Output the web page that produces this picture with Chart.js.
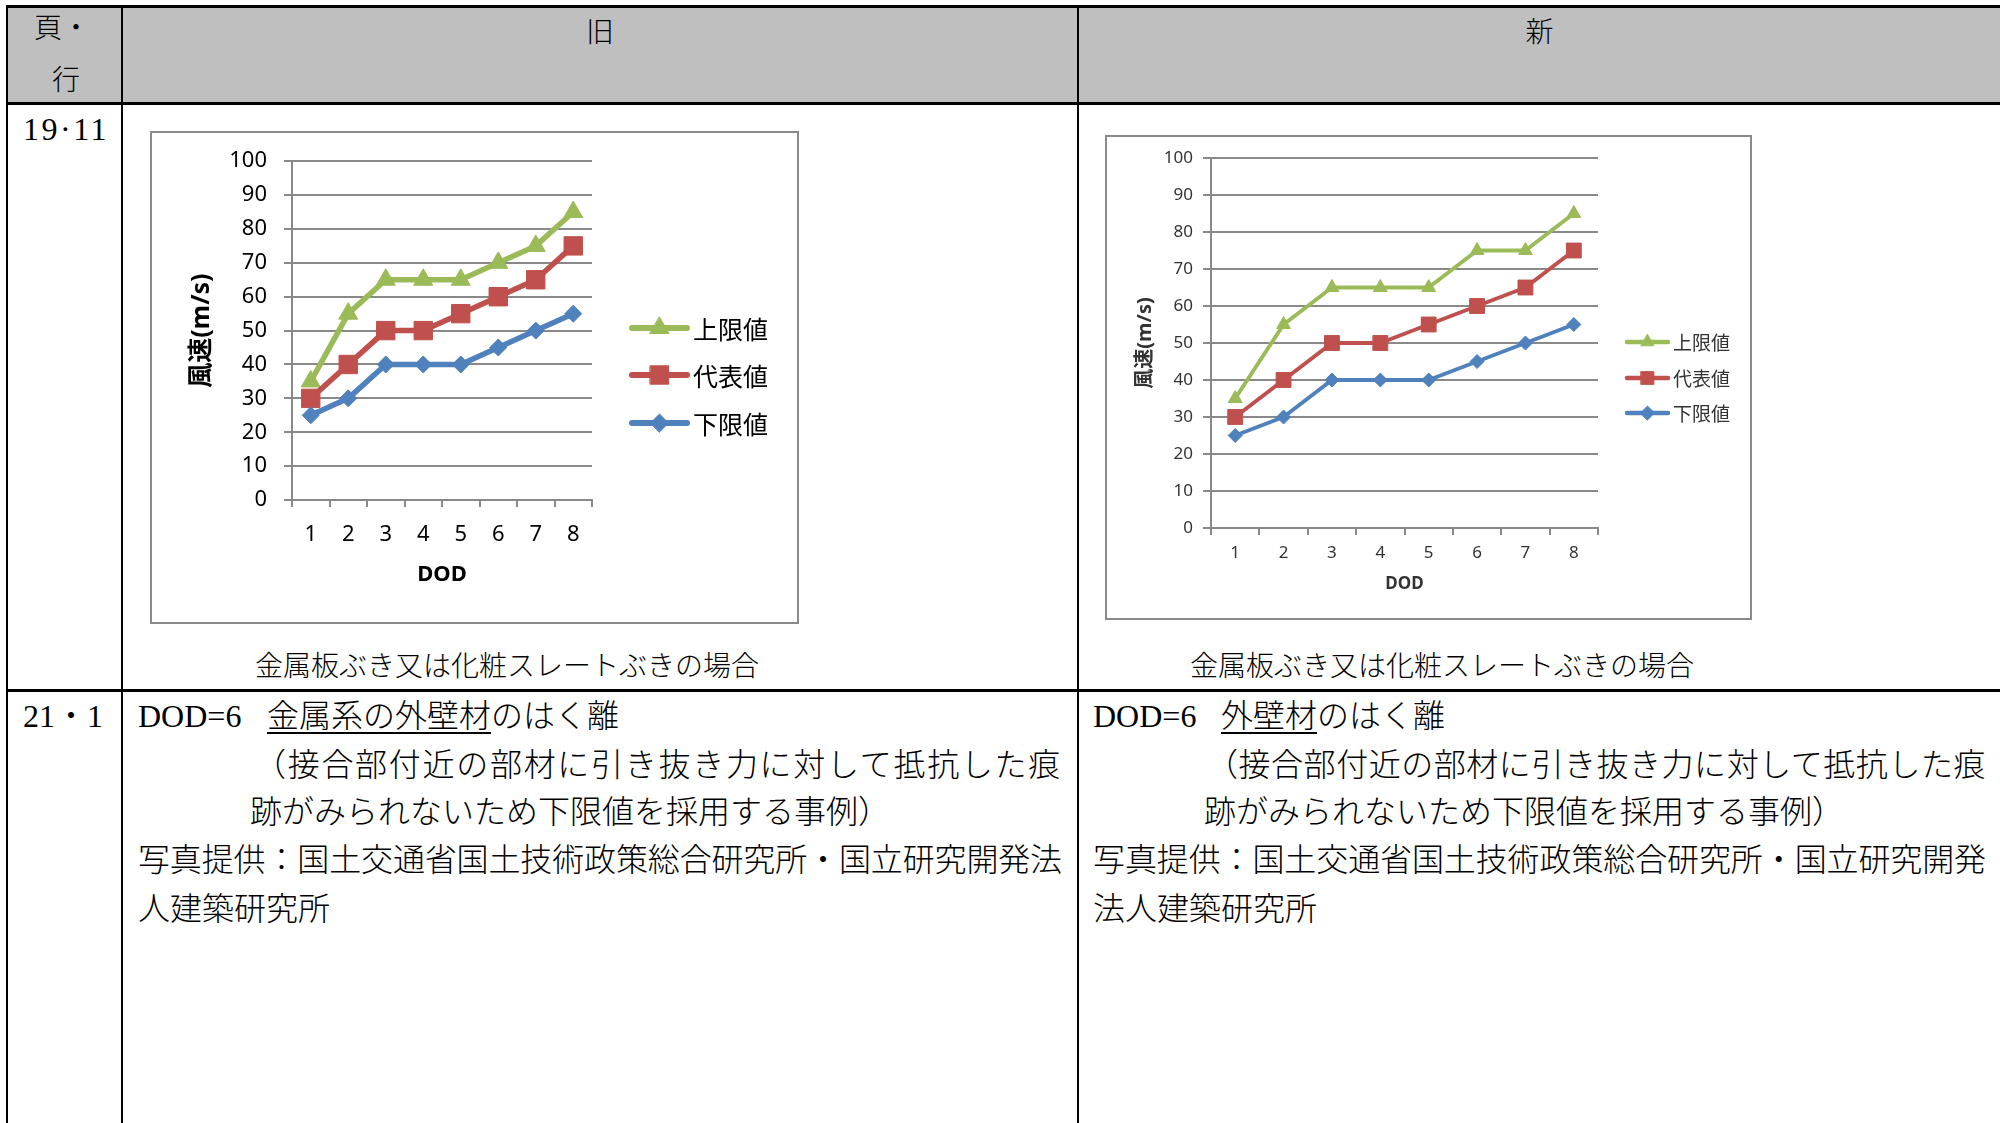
<!DOCTYPE html>
<html lang="ja">
<head>
<meta charset="utf-8">
<title>DOD と風速 新旧対照表</title>
<script src="https://cdn.jsdelivr.net/npm/chart.js@4/dist/chart.umd.min.js"></script>
<style>
html, body { margin: 0; padding: 0; background: #fff; }
#page { position: relative; width: 2000px; height: 1123px; overflow: hidden;
        font-family: "Liberation Serif", "Noto Sans CJK JP", serif; color: #000; font-weight: 300; }
.rule { position: absolute; background: #000; }
.head { position: absolute; background: #bfbfbf; }
.t { position: absolute; white-space: nowrap; line-height: 40px; height: 40px; font-size: 32px; }
.h { font-size: 28px; }
.cap { font-size: 28px; }
.u { text-decoration: underline; text-decoration-thickness: 2px; text-underline-offset: 5px; }
canvas { position: absolute; }
.frame { position: absolute; box-sizing: border-box; border: 2px solid #8a8a8a; pointer-events: none; }
</style>
</head>
<body>
<div id="page">
  <!-- header fill and table rules -->
  <div class="head" style="left:8px; top:8px; width:1992px; height:94px;"></div>
  <div class="rule" style="left:6px; top:5px; width:1994px; height:3px;"></div>
  <div class="rule" style="left:6px; top:102px; width:1994px; height:3px;"></div>
  <div class="rule" style="left:6px; top:689px; width:1994px; height:3px;"></div>
  <div class="rule" style="left:6px; top:5px; width:2px; height:1118px;"></div>
  <div class="rule" style="left:121px; top:5px; width:2px; height:1118px;"></div>
  <div class="rule" style="left:1077px; top:5px; width:2px; height:1118px;"></div>

  <!-- header texts -->
  <div class="t h" style="left:34px; top:9px;">頁・</div>
  <div class="t h" style="left:52px; top:61px;">行</div>
  <div class="t h" style="left:123px; width:954px; text-align:center; top:13px;">旧</div>
  <div class="t h" style="left:1079px; width:921px; text-align:center; top:13px;">新</div>

  <!-- row 19·11 -->
  <div class="t" style="left:23px; top:109px; letter-spacing:2.5px;">19·11</div>

  <canvas id="oldChart" width="649" height="493" style="left:150px; top:131px;"></canvas>
  <div class="frame" style="left:150px; top:131px; width:649px; height:493px;"></div>
  <canvas id="newChart" width="647" height="485" style="left:1105px; top:135px;"></canvas>
  <div class="frame" style="left:1105px; top:135px; width:647px; height:485px;"></div>

  <div class="t cap" style="left:255px; top:647px;">金属板ぶき又は化粧スレートぶきの場合</div>
  <div class="t cap" style="left:1190px; top:647px;">金属板ぶき又は化粧スレートぶきの場合</div>

  <!-- row 21・1 -->
  <div class="t" style="left:23px; top:696px;">21・1</div>

  <div class="t" style="left:138px; top:696px;">DOD=6</div>
  <div class="t" style="left:267px; top:696px;"><span class="u">金属系の外壁材</span>のはく離</div>
  <div class="t fit" data-w="808" style="left:254px; top:745px;">（接合部付近の部材に引き抜き力に対して抵抗した痕</div>
  <div class="t" style="left:250px; top:792px;">跡がみられないため下限値を採用する事例）</div>
  <div class="t fit" data-w="924" style="left:138px; top:840px;">写真提供：国土交通省国土技術政策総合研究所・国立研究開発法</div>
  <div class="t" style="left:138px; top:889px;">人建築研究所</div>

  <div class="t" style="left:1093px; top:696px;">DOD=6</div>
  <div class="t" style="left:1221px; top:696px;"><span class="u">外壁材</span>のはく離</div>
  <div class="t fit" data-w="780" style="left:1206px; top:745px;">（接合部付近の部材に引き抜き力に対して抵抗した痕</div>
  <div class="t" style="left:1204px; top:792px;">跡がみられないため下限値を採用する事例）</div>
  <div class="t fit" data-w="893" style="left:1093px; top:840px;">写真提供：国土交通省国土技術政策総合研究所・国立研究開発</div>
  <div class="t" style="left:1093px; top:889px;">法人建築研究所</div>
</div>

<script>
// spread full-justified lines across their column width
document.querySelectorAll('.fit').forEach(el => {
  const target = parseFloat(el.dataset.w);
  const n = Array.from(el.textContent).length;
  el.style.letterSpacing = '0px';
  const natural = el.getBoundingClientRect().width;
  el.style.letterSpacing = ((target - natural) / n) + 'px';
});

// DOD categories and wind speeds (m/s)
const dodLabels   = ['1', '2', '3', '4', '5', '6', '7', '8'];
const seriesNames = ['上限値', '代表値', '下限値'];
const windTicks   = [0, 10, 20, 30, 40, 50, 60, 70, 80, 90, 100];

// 旧
const oldUpper   = [35, 55, 65, 65, 65, 70, 75, 85];
const oldTypical = [30, 40, 50, 50, 55, 60, 65, 75];
const oldLower   = [25, 30, 40, 40, 40, 45, 50, 55];

// 新
const newUpper   = [35, 55, 65, 65, 65, 75, 75, 85];
const newTypical = [30, 40, 50, 50, 55, 60, 65, 75];
const newLower   = [25, 30, 40, 40, 40, 45, 50, 55];

const seriesColors  = ['#9bbb59', '#c0504d', '#4f81bd'];
const seriesMarkers = ['triangle', 'rect', 'rectRot'];
const gridColor = '#898989';
const fontFamily = '"Noto Sans", "Noto Sans CJK JP", sans-serif';

Chart.defaults.font.family = fontFamily;

// marker geometry as used by Chart.js point styles
function drawMarker(ctx, style, r, x, y) {
  ctx.beginPath();
  if (style === 'rect') {
    const s = Math.SQRT1_2 * r;
    ctx.rect(x - s, y - s, 2 * s, 2 * s);
  } else if (style === 'rectRot') {
    ctx.moveTo(x - r, y); ctx.lineTo(x, y - r); ctx.lineTo(x + r, y); ctx.lineTo(x, y + r);
    ctx.closePath();
  } else {
    for (let k = 0; k < 3; k++) {
      const a = k * 2 * Math.PI / 3;
      const px = x + Math.sin(a) * r, py = y - Math.cos(a) * r;
      if (k === 0) ctx.moveTo(px, py); else ctx.lineTo(px, py);
    }
    ctx.closePath();
  }
  ctx.fill();
  ctx.stroke();
}

// legend drawn as line + marker, Excel style
const lineMarkerLegend = {
  id: 'lineMarkerLegend',
  afterDraw(chart, args, opts) {
    const ctx = chart.ctx;
    ctx.save();
    chart.data.datasets.forEach((ds, i) => {
      const y = opts.ys[i];
      ctx.strokeStyle = ds.borderColor;
      ctx.lineWidth = opts.lineWidth;
      ctx.lineCap = 'round';
      ctx.beginPath();
      ctx.moveTo(opts.x1, y);
      ctx.lineTo(opts.x2, y);
      ctx.stroke();
      ctx.fillStyle = ds.pointBackgroundColor;
      ctx.strokeStyle = ds.pointBorderColor;
      ctx.lineWidth = 1;
      drawMarker(ctx, ds.pointStyle, opts.radii[i], (opts.x1 + opts.x2) / 2, y);
      ctx.fillStyle = opts.color;
      ctx.font = opts.fontSize + 'px "Noto Sans CJK JP", sans-serif';
      ctx.textAlign = 'left';
      ctx.textBaseline = 'middle';
      ctx.fillText(ds.label, opts.textX, y + 1);
    });
    ctx.restore();
  }
};

function buildChart(canvasId, values, S) {
  const datasets = values.map((vals, i) => ({
    label: seriesNames[i],
    data: vals,
    borderColor: seriesColors[i],
    backgroundColor: seriesColors[i],
    pointBackgroundColor: seriesColors[i],
    pointBorderColor: seriesColors[i],
    pointBorderWidth: 1,
    pointStyle: seriesMarkers[i],
    pointRadius: S.radii[i],
    borderWidth: S.lineWidth,
    borderJoinStyle: 'round',
    borderCapStyle: 'round',
    tension: 0,
    order: 3 - i
  }));

  return new Chart(document.getElementById(canvasId), {
    type: 'line',
    data: { labels: dodLabels, datasets },
    plugins: [lineMarkerLegend],
    options: {
      responsive: false,
      animation: false,
      devicePixelRatio: 1,
      layout: { padding: { left: 0, top: S.padTop, right: S.padRight, bottom: 0 } },
      plugins: {
        legend: { display: false },
        tooltip: { enabled: false },
        lineMarkerLegend: Object.assign({ color: S.color, fontSize: S.legendFont,
          lineWidth: S.legendLineWidth, radii: S.legendRadii }, S.legend)
      },
      scales: {
        x: {
          type: 'category',
          offset: true,
          grid: { offset: true, drawOnChartArea: false, drawTicks: true, tickLength: 7,
                  color: gridColor, lineWidth: 2 },
          border: { display: true, color: gridColor, width: 2 },
          ticks: { padding: S.xTickPad, color: S.color, autoSkip: false, maxRotation: 0,
                   font: { size: S.font } },
          title: { display: true, text: 'DOD', color: S.color,
                   font: { size: S.dodFont, weight: 'bold' },
                   padding: { top: 0, bottom: S.xTitlePad } },
          afterFit(scale) { scale.height = S.xHeight; }
        },
        y: {
          min: windTicks[0],
          max: windTicks[windTicks.length - 1],
          afterBuildTicks(scale) { scale.ticks = windTicks.map(v => ({ value: v })); },
          grid: { color: gridColor, lineWidth: 2, drawTicks: true, tickLength: 8 },
          border: { display: true, color: gridColor, width: 2 },
          ticks: { padding: S.yTickPad, color: S.color, font: { size: S.font } },
          title: { display: true, text: '風速(m/s)', color: S.color,
                   font: { size: S.titleFont, weight: 'bold' },
                   padding: { top: S.yTitlePad, bottom: 0 } },
          afterFit(scale) { scale.width = S.yWidth; }
        }
      }
    }
  });
}

buildChart('oldChart', [oldUpper, oldTypical, oldLower], {
  font: 22, titleFont: 25, dodFont: 22, legendFont: 25, color: '#000',
  lineWidth: 5.5, radii: [11, 13, 8.5], legendRadii: [11, 13, 9], legendLineWidth: 6,
  yWidth: 142, xHeight: 124, padTop: 30, padRight: 207,
  yTickPad: 17, xTickPad: 15, yTitlePad: 37, xTitlePad: 36,
  legend: { x1: 482, x2: 537, textX: 543, ys: [197, 244, 292] }
});

buildChart('newChart', [newUpper, newTypical, newLower], {
  font: 17, titleFont: 20, dodFont: 17, legendFont: 19, color: '#333',
  lineWidth: 4, radii: [8, 10.5, 7], legendRadii: [7.5, 9, 7], legendLineWidth: 4.5,
  yWidth: 106, xHeight: 92, padTop: 23, padRight: 154,
  yTickPad: 10, xTickPad: 8, yTitlePad: 28, xTitlePad: 26,
  legend: { x1: 522, x2: 563, textX: 568, ys: [207, 243, 278] }
});
</script>
</body>
</html>
